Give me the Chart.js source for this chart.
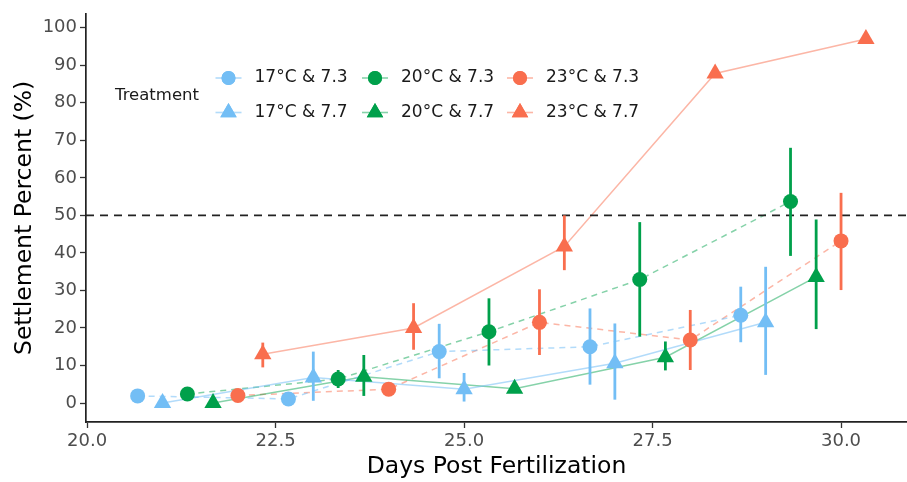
<!DOCTYPE html>
<html><head><meta charset="utf-8">
<script src="https://cdn.jsdelivr.net/npm/chart.js@4"></script>
<style>html,body{margin:0;padding:0;background:#fff}canvas{display:block}</style>
</head><body>
<canvas id="c" width="907" height="482"></canvas>
<script>
// ---------- data ----------
const treatments = ["17°C & 7.3", "20°C & 7.3", "23°C & 7.3", "17°C & 7.7", "20°C & 7.7", "23°C & 7.7"];
const xTicks = [20, 22.5, 25, 27.5, 30];
const yTicks = [0, 10, 20, 30, 40, 50, 60, 70, 80, 90, 100];
const refValue = 50;

const day17_73 = [20.67, 22.67, 24.67, 26.67, 28.67];
const val17_73 = [1.9, 1.1, 13.7, 15.0, 23.4];
const lo17_73  = [null, null, 6.6, 4.9, 16.2];
const hi17_73  = [null, null, 21.1, 25.2, 31.0];

const day17_77 = [21.0, 23.0, 25.0, 27.0, 29.0];
const val17_77 = [0.0, 6.8, 3.7, 10.6, 21.5];
const lo17_77  = [null, 0.6, 0.4, 0.9, 7.5];
const hi17_77  = [null, 13.7, 8.0, 21.2, 36.3];

const day20_73 = [21.33, 23.33, 25.33, 27.33, 29.33];
const val20_73 = [2.4, 6.4, 19.0, 32.9, 53.7];
const lo20_73  = [null, 4.0, 10.0, 17.7, 39.2];
const hi20_73  = [null, 8.8, 27.9, 48.2, 68.0];

const day20_77 = [21.67, 23.67, 25.67, 27.67, 29.67];
const val20_77 = [0.0, 7.0, 3.8, 12.2, 33.6];
const lo20_77  = [null, 1.9, null, 8.7, 19.7];
const hi20_77  = [null, 12.8, null, 16.4, 48.9];

const day23_73 = [22.0, 24.0, 26.0, 28.0, 30.0];
const val23_73 = [2.0, 3.7, 21.5, 16.8, 43.2];
const lo23_73  = [null, null, 12.8, 8.8, 30.1];
const hi23_73  = [null, null, 30.3, 24.8, 56.0];

const day23_77 = [22.33, 24.33, 26.33, 28.33, 30.33];
const val23_77 = [13.0, 20.0, 41.7, 87.8, 97.0];
const lo23_77  = [9.5, 14.2, 35.4, null, null];
const hi23_77  = [16.1, 26.6, 50.0, null, null];

// ---------- styles ----------
const BLUE = '#73BEF5', GREEN = '#00A04B', ORANGE = '#F96E4E';
const BLUE_L = 'rgba(115,190,245,0.55)', GREEN_L = 'rgba(0,160,75,0.48)', ORANGE_L = 'rgba(249,110,78,0.5)';
const FONT = '"DejaVu Sans", "Liberation Sans", Arial, sans-serif';

const series = [
  {label: treatments[0], xs: day17_73, ys: val17_73, lo: lo17_73, hi: hi17_73, color: BLUE,   line: BLUE_L,   dash: [6,5], style: 'circle'},
  {label: treatments[3], xs: day17_77, ys: val17_77, lo: lo17_77, hi: hi17_77, color: BLUE,   line: BLUE_L,   dash: [],    style: 'triangle'},
  {label: treatments[1], xs: day20_73, ys: val20_73, lo: lo20_73, hi: hi20_73, color: GREEN,  line: GREEN_L,  dash: [6,5], style: 'circle'},
  {label: treatments[4], xs: day20_77, ys: val20_77, lo: lo20_77, hi: hi20_77, color: GREEN,  line: GREEN_L,  dash: [],    style: 'triangle'},
  {label: treatments[2], xs: day23_73, ys: val23_73, lo: lo23_73, hi: hi23_73, color: ORANGE, line: ORANGE_L, dash: [6,5], style: 'circle'},
  {label: treatments[5], xs: day23_77, ys: val23_77, lo: lo23_77, hi: hi23_77, color: ORANGE, line: ORANGE_L, dash: [],    style: 'triangle'},
];
const radiusFor = st => st === 'circle' ? 7.5 : 10;

const datasets = [];
series.forEach(s => {
  const pts = s.xs.map((x, i) => ({x, y: s.ys[i]}));
  datasets.push({label: s.label + ' line', data: pts, borderColor: s.line, borderWidth: 1.5,
    borderDash: s.dash, pointRadius: 0, fill: false, tension: 0, order: 3, isLine: true});
});
series.forEach(s => {
  const pts = s.xs.map((x, i) => ({x, y: s.ys[i]}));
  datasets.push({label: s.label, data: pts, showLine: false, pointStyle: s.style,
    pointRadius: radiusFor(s.style), pointBackgroundColor: s.color, pointBorderColor: s.color,
    pointBorderWidth: 0, order: 1, isLine: false});
});

let extrasDrawn = false;
const extras = {
  id: 'extras',
  beforeDatasetsDraw() { extrasDrawn = false; },
  beforeDatasetDraw(chart, args) {
    const ds = chart.data.datasets[args.index];
    if (ds.isLine || extrasDrawn) return;
    extrasDrawn = true;
    const {ctx, chartArea, scales: {x, y}} = chart;
    ctx.save();
    ctx.setLineDash([8, 6]);
    ctx.strokeStyle = '#222';
    ctx.lineWidth = 1.7;
    const py = y.getPixelForValue(refValue);
    ctx.beginPath(); ctx.moveTo(chartArea.left, py); ctx.lineTo(chartArea.right, py); ctx.stroke();
    ctx.setLineDash([]);
    series.forEach(s => {
      ctx.strokeStyle = s.color;
      ctx.lineWidth = 2.8;
      s.xs.forEach((xv, i) => {
        if (s.lo[i] == null || s.hi[i] == null) return;
        const px = x.getPixelForValue(xv);
        ctx.beginPath();
        ctx.moveTo(px, y.getPixelForValue(s.lo[i]));
        ctx.lineTo(px, y.getPixelForValue(s.hi[i]));
        ctx.stroke();
      });
    });
    ctx.restore();
  },
  afterDraw(chart) {
    const ctx = chart.ctx;
    ctx.save();
    ctx.setLineDash([]);
    ctx.fillStyle = '#1a1a1a';
    ctx.textBaseline = 'middle';
    ctx.textAlign = 'left';
    ctx.font = '16.5px ' + FONT;
    ctx.fillText('Treatment', 115, 96);
    const colX = [228.5, 375, 520];
    const rowY = [78, 112.5];
    const order = [[0, 2, 4], [1, 3, 5]];
    ctx.font = '17px ' + FONT;
    order.forEach((row, r) => row.forEach((si, c) => {
      const s = series[si];
      const cx = colX[c], cy = rowY[r];
      ctx.setLineDash([]);
      ctx.strokeStyle = s.line;
      ctx.lineWidth = 1.6;
      ctx.beginPath(); ctx.moveTo(cx - 13, cy); ctx.lineTo(cx + 13, cy); ctx.stroke();
      ctx.fillStyle = s.color;
      Chart.helpers.drawPoint(ctx, {pointStyle: s.style, radius: s.style === 'circle' ? 7 : 9.5, rotation: 0, borderWidth: 0}, cx, cy);
      ctx.fill();
      ctx.fillStyle = '#1a1a1a';
      ctx.fillText(s.label, cx + 26, cy);
    }));
    ctx.restore();
  }
};

new Chart(document.getElementById('c'), {
  type: 'line',
  data: {datasets},
  options: {
    responsive: false,
    animation: false,
    events: [],
    layout: {padding: {top: 12, right: 0, bottom: 0, left: 0}, autoPadding: false},
    plugins: {legend: {display: false}, tooltip: {enabled: false}},
    scales: {
      x: {
        type: 'linear', min: 19.985, max: 30.875,
        afterFit: s => { s.height = 60; },
        afterBuildTicks: s => { s.ticks = xTicks.map(v => ({value: v})); },
        ticks: {callback: v => Number(v).toFixed(1), color: '#4d4d4d', font: {family: FONT, size: 18}, padding: 3, maxRotation: 0, autoSkip: false},
        grid: {display: true, drawOnChartArea: false, drawTicks: true, tickLength: 6, tickColor: '#333', tickWidth: 1.3},
        border: {display: true, color: '#222', width: 1.7},
        title: {display: true, text: 'Days Post Fertilization', color: '#000', font: {family: FONT, size: 23.5}, padding: {top: 0, bottom: 1}}
      },
      y: {
        type: 'linear', min: -5.05, max: 103.7,
        afterFit: s => { s.width = 86; },
        afterBuildTicks: s => { s.ticks = yTicks.map(v => ({value: v})); },
        ticks: {callback: v => String(v), color: '#4d4d4d', font: {family: FONT, size: 18}, padding: 3, autoSkip: false},
        grid: {display: true, drawOnChartArea: false, drawTicks: true, tickLength: 6, tickColor: '#333', tickWidth: 1.3},
        border: {display: true, color: '#222', width: 1.7},
        title: {display: true, text: 'Settlement Percent (%)', color: '#000', font: {family: FONT, size: 23.5}, padding: {top: 11, bottom: 0}}
      }
    }
  },
  plugins: [extras]
});
</script>
</body></html>
